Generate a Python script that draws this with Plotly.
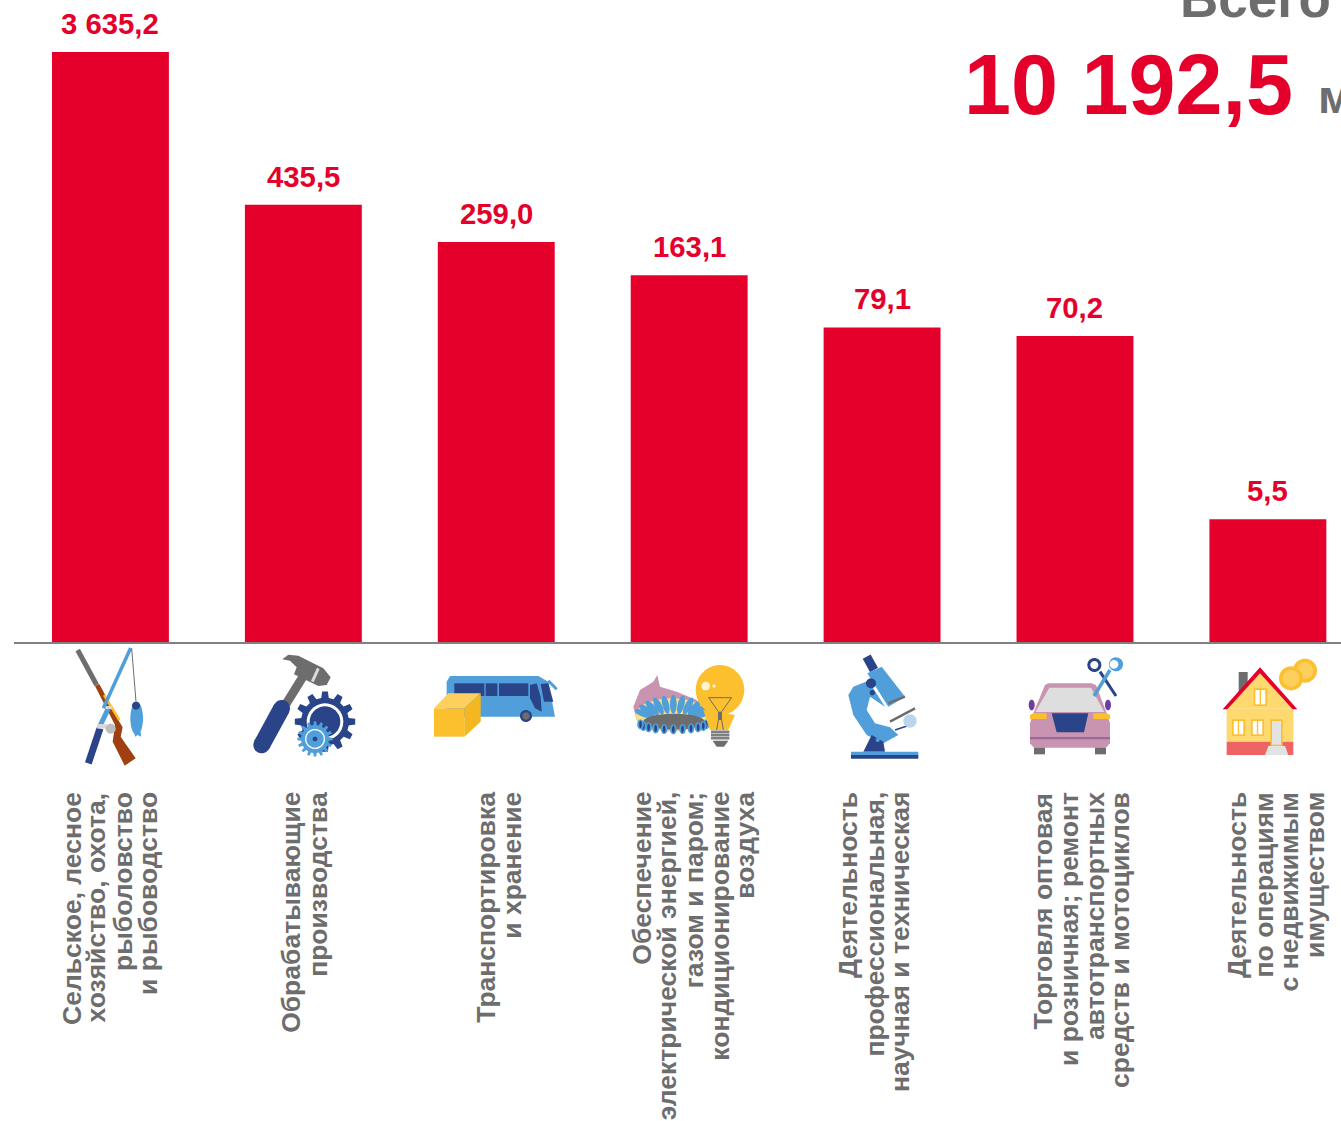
import numpy as np
import plotly.graph_objects as go

W, H = 1341, 1121
categories = ["Сельское хозяйство", "Обрабатывающие производства", "Транспортировка и хранение",
              "Обеспечение энергией", "Профессиональная деятельность", "Торговля", "Недвижимость"]
values = [3635.2, 435.5, 259.0, 163.1, 79.1, 70.2, 5.5]
value_labels = ["3 635,2", "435,5", "259,0", "163,1", "79,1", "70,2", "5,5"]
label_lines = [
    ["Сельское, лесное", "хозяйство, охота,", "рыболовство", "и рыбоводство"],
    ["Обрабатывающие", "производства"],
    ["Транспортировка", "и хранение"],
    ["Обеспечение", "электрической энергией,", "газом и паром;", "кондиционирование", "воздуха"],
    ["Деятельность", "профессиональная,", "научная и техническая"],
    ["Торговля оптовая", "и розничная; ремонт", "автотранспортных", "средств и мотоциклов"],
    ["Деятельность", "по операциям", "с недвижимым", "имуществом"],
]
label_offsets = [
    [-39, -14, 12, 37], [-13, 14], [-11, 15],
    [-48, -22, 5, 30, 55], [-34, -8, 18], [-32, -6, 20, 45], [-31, -4, 21, 47],
]
total_title = "Всего"
total_value = "10 192,5"
total_unit = "м"

RED, GRAY = "#E4002B", "#6D6D6D"
NAVY, BLUE, YEL, BROWN, PINK = "#2A4489", "#509FDA", "#FCBF2D", "#A04012", "#C894B0"
FONT = "Liberation Sans"

shapes = []
ox, oy = 0, 0
def px(x): return (ox + x / 3) / W
def py(y): return 1 - (oy + y / 3) / H
def poly(pts, fill):
    d = "M " + " L ".join(f"{px(x):.5f} {py(y):.5f}" for x, y in pts) + " Z"
    shapes.append(dict(type="path", path=d, xref="paper", yref="paper", fillcolor=fill, line_width=0))
def rect(x0, y0, x1, y1, fill):
    poly([(x0, y0), (x1, y0), (x1, y1), (x0, y1)], fill)
def ell(cx, cy, rx, ry, fill, ang=0):
    t = np.linspace(0, 2 * np.pi, 32)[:-1]
    a = np.radians(ang)
    poly([(cx + rx * np.cos(u) * np.cos(a) - ry * np.sin(u) * np.sin(a),
           cy + rx * np.cos(u) * np.sin(a) + ry * np.sin(u) * np.cos(a)) for u in t], fill)
def ln(x0, y0, x1, y1, w, c):
    shapes.append(dict(type="line", xref="paper", yref="paper", x0=px(x0), y0=py(y0), x1=px(x1), y1=py(y1),
                       line=dict(color=c, width=w)))
def gear(cx, cy, ro, ri, n, fill):
    pts = []
    for k in range(n):
        a = 2 * np.pi * k / n
        s = 2 * np.pi / n
        for f, r in ((-.3, ri), (-.18, ro), (.18, ro), (.3, ri)):
            pts.append((cx + r * np.cos(a + f * s), cy + r * np.sin(a + f * s)))
    poly(pts, fill)

# fishing icon
ox, oy = 40, 640
ln(113, 30, 170, 135, 5, GRAY)
poly([(165, 138), (178, 132), (238, 245), (248, 262), (242, 290), (287, 355), (254, 377), (218, 305), (225, 255)], BROWN)
ln(192, 165, 238, 240, 2.5, YEL)
ln(272, 24, 190, 205, 3.5, BLUE)
ln(205, 205, 178, 262, 5, BLUE)
ln(180, 265, 145, 370, 7, NAVY)
rect(172, 252, 200, 266, "#D9D9D9")
rect(198, 198, 216, 207, "#D9D9D9")
ln(275, 25, 288, 185, 1, GRAY)
ell(212, 266, 15, 15, "#BDBDBD")
ell(290, 235, 19, 50, BLUE)
poly([(283, 275), (302, 275), (303, 290), (293, 285), (285, 290)], BLUE)
ell(288, 197, 12, 12, NAVY)
# hammer and gears
ln(792, 105, 738, 192, 9, GRAY)
ln(725, 205, 665, 315, 17, NAVY)
ell(725, 205, 25, 25, NAVY); ell(665, 315, 25, 25, NAVY)
poly([(727, 58), (745, 44), (775, 47), (850, 85), (872, 112), (860, 135), (835, 138), (762, 103), (770, 82), (750, 62)], GRAY)
ln(835, 85, 817, 125, 3, "#D9D9D9")
gear(855, 245, 91, 72, 12, NAVY)
ell(855, 245, 55, 55, "#FFFFFF")
ell(855, 245, 46, 46, NAVY)
gear(825, 297, 53, 42, 16, BLUE)
ell(825, 297, 30, 30, "#FFFFFF")
ell(825, 297, 26, 26, BLUE)
ell(825, 297, 7, 7, NAVY)

# bus and box
ox, oy = 420, 640
poly([(80, 125), (90, 108), (355, 108), (385, 125), (405, 230), (80, 230)], BLUE)
rect(103, 130, 193, 168, NAVY); rect(197, 130, 232, 168, NAVY); rect(237, 130, 325, 168, NAVY)
poly([(330, 135), (350, 130), (362, 170), (365, 215), (345, 205), (330, 175)], NAVY)
poly([(362, 132), (385, 130), (400, 185), (372, 185)], NAVY)
ln(385, 122, 410, 148, 3, BLUE)
ell(318, 228, 18, 18, NAVY); ell(318, 228, 11, 11, GRAY)
poly([(42, 205), (85, 160), (182, 160), (133, 205)], "#FDD05E")
rect(42, 205, 133, 290, YEL)
poly([(133, 205), (182, 160), (182, 245), (133, 290)], "#F4B71F")
# burner and bulb
poly([(640, 200), (660, 150), (700, 125), (712, 105), (720, 140), (770, 155), (830, 180), (860, 260), (680, 270), (650, 240)], PINK)
ell(755, 225, 108, 50, "#FBDF80")
for a in np.linspace(200, 340, 11):
    r = np.radians(a)
    ell(760 + 95 * np.cos(r), 235 + 42 * np.sin(r), 10, 28, BLUE, a + 90)
ell(762, 245, 92, 24, GRAY)
for a in np.linspace(10, 170, 11):
    r = np.radians(a)
    ell(760 + 100 * np.cos(r), 250 + 18 * np.sin(r), 10, 15, BLUE)
    ell(760 + 100 * np.cos(r), 250 + 18 * np.sin(r), 4, 11, NAVY)
poly([(850, 210), (870, 270), (925, 270), (945, 225)], YEL)
ell(900, 150, 73, 75, YEL)
rect(873, 270, 928, 300, "#BDBDBD")
for yy in (276, 285, 294):
    ln(873, yy, 928, yy, 1.5, GRAY)
poly([(878, 302), (925, 302), (912, 320), (890, 320)], GRAY)
ell(857, 138, 13, 13, "#FFF3D0"); ell(882, 138, 5, 5, "#FFF3D0")
ln(866, 173, 935, 173, 1, GRAY); ln(866, 173, 895, 215, 1, GRAY); ln(935, 173, 905, 215, 1, GRAY)
rect(894, 215, 906, 240, GRAY)
ln(895, 240, 890, 270, 1, GRAY); ln(905, 240, 910, 270, 1, GRAY)
# microscope
ln(1340, 50, 1362, 90, 9, NAVY)
poly([(1342, 100), (1385, 80), (1455, 170), (1405, 200)], BLUE)
poly([(1285, 165), (1300, 140), (1345, 122), (1395, 200), (1350, 170), (1340, 210), (1365, 250), (1410, 262),
      (1435, 285), (1390, 310), (1340, 285), (1300, 225)], BLUE)
ell(1353, 130, 15, 15, NAVY); ell(1357, 158, 8, 8, NAVY)
poly([(1330, 335), (1355, 285), (1390, 305), (1395, 335)], NAVY)
ell(1373, 300, 6, 6, BLUE)
rect(1293, 335, 1495, 345, BLUE); rect(1293, 345, 1495, 356, NAVY)
ln(1405, 190, 1455, 170, 2.5, GRAY)
ln(1410, 245, 1485, 205, 2.5, GRAY)
ln(1425, 270, 1470, 255, 1.5, NAVY)
ell(1470, 243, 20, 20, "#BBD6EC")

# car and tools
ox, oy = 1010, 640
ell(65, 195, 9, 16, "#6E3D9E"); ell(294, 195, 9, 16, "#6E3D9E")
poly([(105, 135), (115, 130), (245, 130), (258, 135), (290, 220), (300, 250), (300, 310), (288, 323), (72, 323), (60, 310), (60, 250), (70, 220)], PINK)
poly([(118, 143), (243, 143), (283, 216), (76, 216)], "#DEDEDE")
poly([(125, 220), (235, 220), (222, 277), (140, 277)], NAVY)
poly([(60, 225), (70, 220), (110, 220), (110, 237), (60, 237)], YEL)
poly([(250, 220), (290, 220), (300, 225), (300, 237), (250, 237)], YEL)
rect(60, 291, 300, 298, "#9C6A9A")
rect(72, 323, 105, 343, GRAY); rect(255, 323, 288, 343, GRAY)
ln(270, 95, 318, 168, 3, NAVY)
ell(253, 75, 21, 21, NAVY); ell(253, 75, 12, 12, "#FFFFFF")
ln(300, 90, 252, 168, 3.5, BLUE)
ell(318, 73, 21, 21, BLUE); ell(312, 73, 13, 13, "#FFFFFF")
# house and coins
ell(885, 92, 36, 36, YEL); ell(885, 92, 25, 25, "#FDD05E")
ell(843, 115, 36, 36, YEL); ell(843, 115, 25, 25, "#FDD05E")
rect(686, 96, 713, 160, GRAY)
rect(650, 205, 850, 305, "#FDD970")
poly([(650, 205), (750, 95), (850, 205)], "#FDD970")
rect(650, 305, 850, 345, "#EE6363")
poly([(638, 208), (750, 82), (862, 208), (848, 208), (750, 100), (652, 208)], RED)
poly([(775, 318), (825, 318), (835, 345), (765, 345)], "#E3E3E3")
for x0, y0, x1, y1 in ((731, 145, 771, 198), (666, 238, 705, 288), (723, 238, 762, 288)):
    rect(x0, y0, x1, y1, YEL)
    rect(x0 + 5, y0 + 5, x1 - 5, y1 - 5, "#FFFFFF")
    rect((x0 + x1) / 2 - 2, y0, (x0 + x1) / 2 + 2, y1, YEL)
rect(781, 238, 818, 318, YEL); rect(786, 243, 813, 314, "#E3E3E3")

x = list(range(len(values)))
fig = go.Figure(go.Bar(x=x, y=values, marker=dict(color=RED, line_width=0), base=0, hoverinfo="x+y"))

annotations = []
for i, (v, t) in enumerate(zip(values, value_labels)):
    annotations.append(dict(x=i, y=float(np.log10(v)), xref="x", yref="y", text=t, showarrow=False, yanchor="bottom",
                            yshift=10, font=dict(family=FONT, size=29.3, color=RED, weight=700)))
for i, (lines, offs) in enumerate(zip(label_lines, label_offsets)):
    for line, off in zip(lines, offs):
        annotations.append(dict(x=i, xshift=off, y=1 - 790 / H, xref="x", yref="paper", text=line, showarrow=False,
                                textangle=-90, yanchor="top", xanchor="center",
                                font=dict(family=FONT, size=26.5, color=GRAY, weight=700)))
annotations.append(dict(x=1333 / W, y=1 - 30 / H, xref="paper", yref="paper", text=total_title, showarrow=False,
                        xanchor="right", yanchor="bottom", font=dict(family=FONT, size=53, color=GRAY, weight=700)))
annotations.append(dict(x=962 / W, y=1 - 85 / H, xref="paper", yref="paper", text=total_value, showarrow=False,
                        xanchor="left", yanchor="middle", font=dict(family=FONT, size=84.5, color=RED, weight=700)))
annotations.append(dict(x=1316 / W, y=1 - 125 / H, xref="paper", yref="paper", text=total_unit, showarrow=False,
                        xanchor="left", yanchor="bottom", font=dict(family=FONT, size=47, color=GRAY, weight=700)))

fig.update_layout(
    width=W, height=H, margin=dict(l=0, r=0, t=0, b=0), paper_bgcolor="white", plot_bgcolor="white",
    showlegend=False, bargap=0.394, shapes=shapes, annotations=annotations,
    xaxis=dict(domain=[14 / W, 1], range=[-0.5, 6.379], showticklabels=False, ticks="", showgrid=False,
               zeroline=False, showline=True, linecolor="#808080", linewidth=1.5, fixedrange=True),
    yaxis=dict(domain=[1 - 642 / H, 1], type="log", range=[0, 3.874], showticklabels=False, ticks="",
               showgrid=False, zeroline=False, fixedrange=True),
)
fig.write_html("out.html", post_script="document.body.style.margin='0';document.body.style.overflow='hidden';",
               config=dict(displayModeBar=False))
